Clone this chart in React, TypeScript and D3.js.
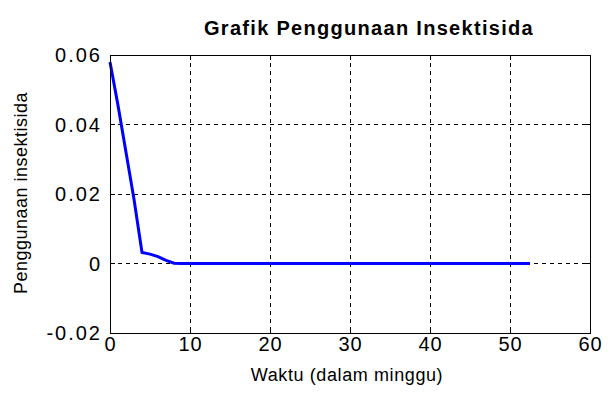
import React from "react";
import * as d3 from "d3";

const weeks = [0, 1, 2, 3, 4, 5, 6, 7, 8, 9, 10, 12, 14, 16, 18, 20, 22, 24, 26, 28, 30, 32, 34, 36, 38, 40, 42, 44, 46, 48, 50, 52.5];
const usage = [0.058, 0.0455, 0.032, 0.0185, 0.0032, 0.0027, 0.002, 0.0009, 0.0001, 0, 0, 0, 0, 0, 0, 0, 0, 0, 0, 0, 0, 0, 0, 0, 0, 0, 0, 0, 0, 0, 0, 0];
const xTicks = [0, 10, 20, 30, 40, 50, 60];
const yTicks = [-0.02, 0, 0.02, 0.04, 0.06];
const yTickLabels = ["-0.02", "0", "0.02", "0.04", "0.06"];
const title = "Grafik Penggunaan Insektisida";
const xLabel = "Waktu (dalam minggu)";
const yLabel = "Penggunaan insektisida";

const W = 611;
const H = 401;
const M = { left: 110, right: 21, top: 55, bottom: 68 };

export default function App() {
  const x = d3.scaleLinear().domain([0, 60]).range([M.left, W - M.right]);
  const y = d3.scaleLinear().domain([-0.02, 0.06]).range([H - M.bottom, M.top]);
  const line = d3
    .line<number>()
    .x((_, i) => x(weeks[i]))
    .y((d) => y(d));
  const font = "'Liberation Sans', Arial, sans-serif";
  const x0 = x(0), x1 = x(60), y0 = y(-0.02), y1 = y(0.06);
  return (
    <div style={{ position: "absolute", left: 0, top: 0, width: W, height: H, background: "#fff" }}>
      <svg width={W} height={H} style={{ display: "block" }}>
        <rect x={0} y={0} width={W} height={H} fill="#fff" />
        {/* grid */}
        {xTicks.slice(1, -1).map((t) => (
          <line key={"gx" + t} x1={x(t)} x2={x(t)} y1={y1} y2={y0} stroke="#000" strokeWidth={1} strokeDasharray="4,4" shapeRendering="crispEdges" />
        ))}
        {yTicks.slice(1, -1).map((t) => (
          <line key={"gy" + t} x1={x0} x2={x1} y1={y(t)} y2={y(t)} stroke="#000" strokeWidth={1} strokeDasharray="4,4" shapeRendering="crispEdges" />
        ))}
        {/* data line */}
        <path d={line(usage) || ""} fill="none" stroke="#0000ff" strokeWidth={3} strokeLinejoin="miter" />
        {/* ticks */}
        {xTicks.map((t) => (
          <g key={"tx" + t}>
            <line x1={x(t)} x2={x(t)} y1={y0} y2={y0 - 5} stroke="#000" shapeRendering="crispEdges" />
            <line x1={x(t)} x2={x(t)} y1={y1} y2={y1 + 5} stroke="#000" shapeRendering="crispEdges" />
          </g>
        ))}
        {yTicks.map((t) => (
          <g key={"ty" + t}>
            <line x1={x0} x2={x0 + 5} y1={y(t)} y2={y(t)} stroke="#000" shapeRendering="crispEdges" />
            <line x1={x1} x2={x1 - 5} y1={y(t)} y2={y(t)} stroke="#000" shapeRendering="crispEdges" />
          </g>
        ))}
        {/* box */}
        <rect x={x0} y={y1} width={x1 - x0} height={y0 - y1} fill="none" stroke="#000" strokeWidth={1} shapeRendering="crispEdges" />
        {/* tick labels */}
        {xTicks.map((t) => (
          <text key={"lx" + t} x={x(t) + 0.5} y={y0 + 17.5} textAnchor="middle" fontFamily={font} fontSize={20} letterSpacing={1} fill="#000">
            {t}
          </text>
        ))}
        {yTicks.map((t, i) => (
          <text key={"ly" + t} x={x0 - 8} y={y(t) + 7} textAnchor="end" fontFamily={font} fontSize={20} letterSpacing={2} fill="#000">
            {yTickLabels[i]}
          </text>
        ))}
        {/* labels */}
        <text x={369} y={35} textAnchor="middle" fontFamily={font} fontSize={20} fontWeight="bold" letterSpacing={1.3} fill="#000">
          {title}
        </text>
        <text x={347} y={381} textAnchor="middle" fontFamily={font} fontSize={18} letterSpacing={0.6} fill="#000">
          {xLabel}
        </text>
        <text transform={`translate(27, ${(y0 + y1) / 2 - 1}) rotate(-90)`} textAnchor="middle" fontFamily={font} fontSize={18} letterSpacing={0.5} fill="#000">
          {yLabel}
        </text>
      </svg>
    </div>
  );
}
